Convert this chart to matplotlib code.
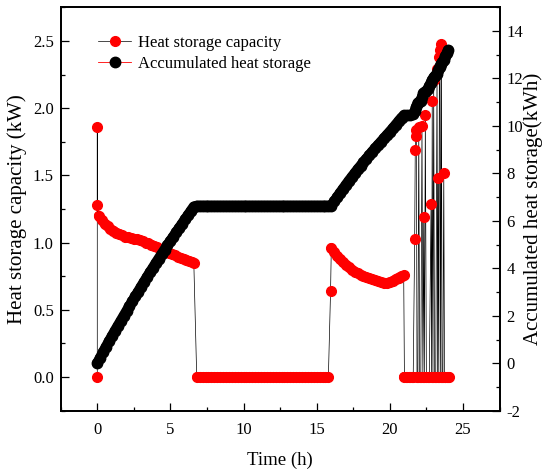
import numpy as np
import matplotlib
matplotlib.use("Agg")
import matplotlib.pyplot as plt
from matplotlib.ticker import MultipleLocator, FormatStrFormatter

plt.rcParams["font.family"] = ["Liberation Serif", "DejaVu Serif"]
plt.rcParams["axes.unicode_minus"] = False

# --- heat storage capacity (kW), red markers ---
t_start = [0.0, 0.0, 0.0]
cap_start = [0.0, 1.86, 1.28]

t_day = np.arange(0.1, 6.55, 0.2)
cap_day = [1.20, 1.17, 1.14, 1.12, 1.10, 1.09, 1.075, 1.065, 1.055, 1.045,
           1.04, 1.035, 1.03, 1.025, 1.02, 1.01, 1.00, 0.995, 0.985, 0.975,
           0.965, 0.955, 0.945, 0.935, 0.925, 0.915, 0.905, 0.895, 0.885, 0.878,
           0.87, 0.862, 0.855]

t_off = np.arange(6.6, 15.95, 0.2)
cap_off = [0.85] + [0.0] * (len(t_off) - 1)

t_eve = [15.95] + list(np.arange(16.0, 20.85, 0.2)) + [20.95]
cap_eve = [0.64, 0.96, 0.93, 0.90, 0.875, 0.855, 0.835, 0.815, 0.80, 0.785,
           0.772, 0.76, 0.75, 0.742, 0.735, 0.727, 0.72, 0.712, 0.706, 0.702,
           0.70, 0.705, 0.715, 0.728, 0.74, 0.752, 0.76]

t_spk = [21.00, 21.10, 21.20, 21.30, 21.40, 21.50, 21.60, 21.70, 21.74, 21.78,
         21.82, 21.86, 21.92, 21.98, 22.04, 22.12, 22.20, 22.26, 22.32, 22.36,
         22.43, 22.50, 22.60, 22.70, 22.82, 22.86, 22.90, 22.95, 23.00, 23.06,
         23.14, 23.23, 23.27, 23.31, 23.35, 23.39, 23.43, 23.47, 23.53, 23.57,
         23.63, 23.69, 23.74, 23.80, 23.88, 23.96, 24.05]
cap_spk = [0.0, 0.0, 0.0, 0.0, 0.0, 0.0, 0.0, 1.03, 1.69, 1.79,
           1.84, 0.0, 0.0, 1.86, 0.0, 0.0, 1.87, 0.0, 1.19, 0.0,
           1.95, 0.0, 0.0, 0.0, 1.29, 0.0, 2.05, 0.0, 2.21, 0.0,
           0.0, 2.29, 0.0, 1.48, 0.0, 2.38, 2.43, 0.0, 2.48, 0.0,
           0.0, 1.52, 0.0, 0.0, 0.0, 0.0, 0.0]

# --- accumulated heat storage (kWh), black markers ---
t_acc1 = np.arange(0.0, 6.65, 0.2)
acc1 = [0.0, 0.24, 0.47, 0.70, 0.92, 1.14, 1.36, 1.57, 1.78, 1.99,
        2.20, 2.41, 2.61, 2.82, 3.02, 3.23, 3.43, 3.63, 3.83, 4.02,
        4.22, 4.41, 4.60, 4.79, 4.98, 5.16, 5.34, 5.52, 5.70, 5.88,
        6.06, 6.24, 6.42, 6.60]

t_flat = np.arange(6.8, 15.85, 0.2)
acc_flat = [6.63] * len(t_flat)

t_acc2 = np.arange(16.0, 21.05, 0.2)
acc2 = [6.63, 6.82, 7.00, 7.18, 7.35, 7.52, 7.69, 7.85, 8.01, 8.17,
        8.32, 8.47, 8.62, 8.77, 8.92, 9.06, 9.20, 9.34, 9.48, 9.62,
        9.76, 9.90, 10.05, 10.20, 10.35, 10.45]

t_acc3 = [21.2, 21.4, 21.6, 21.7, 21.8, 21.9, 22.0, 22.1, 22.2, 22.3,
          22.4, 22.5, 22.6, 22.7, 22.8, 22.9, 23.0, 23.1, 23.2, 23.3,
          23.4, 23.5, 23.6, 23.7, 23.8, 23.9, 24.0]
acc3 = [10.45, 10.45, 10.50, 10.62, 10.80, 10.97, 11.02, 11.05, 11.20, 11.38,
        11.45, 11.48, 11.55, 11.68, 11.82, 11.95, 12.05, 12.12, 12.20, 12.35,
        12.50, 12.62, 12.70, 12.80, 12.95, 13.08, 13.20]

t_cap = np.concatenate([t_start, t_day, t_off, t_eve, t_spk])
cap = np.concatenate([cap_start, cap_day, cap_off, cap_eve, cap_spk])
t_acc = np.concatenate([t_acc1, t_flat, t_acc2, t_acc3])
acc = np.concatenate([acc1, acc_flat, acc2, acc3])

fig = plt.figure(figsize=(5.44, 4.72), dpi=100)
ax1 = fig.add_axes([0.1116, 0.1299, 0.8066, 0.8546])
ax2 = ax1.twinx()

MS_RED = 7
MS_BLK = 7.5

# the dense markers merge into solid bands; a wide round-capped line fills the gaps
for tt, vv in [(t_day, cap_day), (t_off[1:], cap_off[1:]), (t_eve[1:-1], cap_eve[1:-1]),
               (t_spk[:7], cap_spk[:7])]:
    ax1.plot(tt, vv, "-", color="red", lw=MS_RED, solid_capstyle="round",
             solid_joinstyle="round")
ax1.plot(t_spk, [0.0 if v == 0 else np.nan for v in cap_spk], "-", color="red",
         lw=MS_RED, solid_capstyle="round")

l1, = ax1.plot(t_cap, cap, "-", color="k", lw=0.5, marker="o", ms=MS_RED,
               mfc="red", mec="red", label="Heat storage capacity")

ax2.plot(t_acc, acc, "-", color="black", lw=MS_BLK, solid_capstyle="round",
         solid_joinstyle="round")
l2, = ax2.plot(t_acc, acc, "-", color="red", lw=0.6, marker="o", ms=MS_BLK,
               mfc="black", mec="black", label="Accumulated heat storage")

ax1.set_xlim(-2.5, 27.5)
ax1.set_ylim(-0.25, 2.75)
ax2.set_ylim(-2, 15)
ax1.xaxis.set_major_locator(MultipleLocator(5))
ax1.xaxis.set_minor_locator(MultipleLocator(2.5))
ax1.yaxis.set_major_locator(MultipleLocator(0.5))
ax1.yaxis.set_minor_locator(MultipleLocator(0.25))
ax1.yaxis.set_major_formatter(FormatStrFormatter("%.1f"))
ax2.yaxis.set_major_locator(MultipleLocator(2))
ax2.yaxis.set_minor_locator(MultipleLocator(1))

for ax in (ax1, ax2):
    ax.tick_params(which="major", direction="in", length=6, width=0.9,
                   labelsize=12, pad=5)
    ax.tick_params(which="minor", direction="in", length=3, width=0.9)
    for sp in ax.spines.values():
        sp.set_linewidth(1.3)
ax1.tick_params(axis="x", which="both", top=False, pad=8)

ax1.set_xlabel("Time (h)", fontsize=13.5, labelpad=10)
ax1.set_ylabel("Heat storage capacity (kW)", fontsize=15)
ax2.set_ylabel("Accumulated heat storage(kWh)", fontsize=15, labelpad=0)

ax2.legend([l1, l2], [l1.get_label(), l2.get_label()], loc="upper left",
           bbox_to_anchor=(0.07, 0.948), frameon=False, fontsize=12,
           handlelength=2.0, handletextpad=0.4, labelspacing=0.3,
           borderaxespad=0, numpoints=1)

fig.savefig("out.png", dpi=100)
